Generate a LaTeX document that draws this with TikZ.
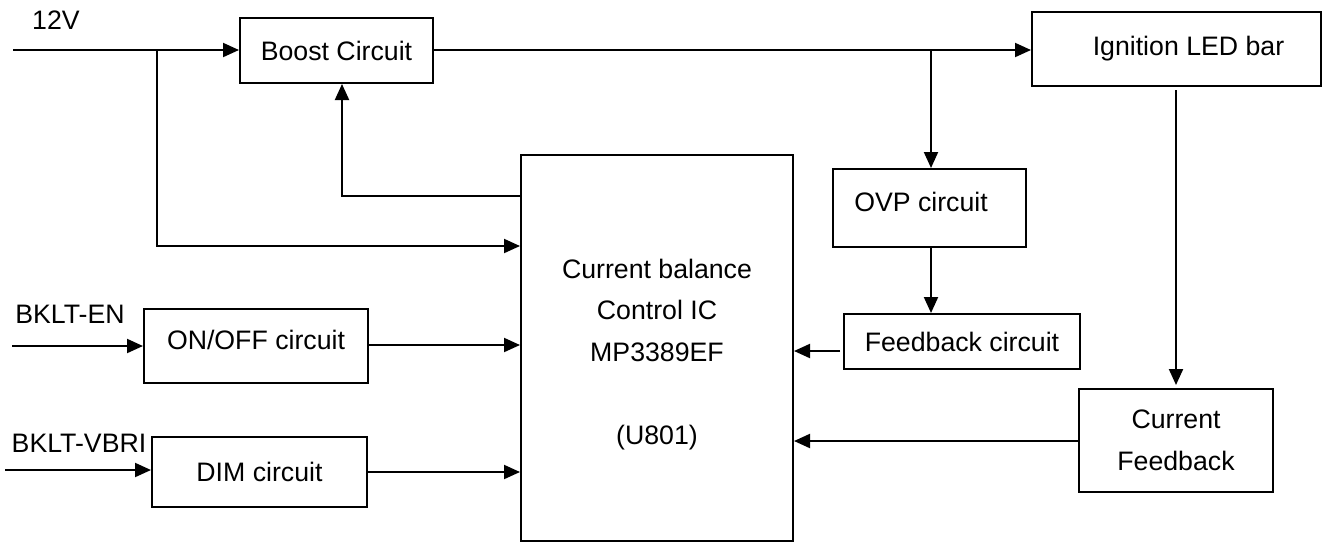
\documentclass[tikz,border=0pt]{standalone}
\usepackage{fontspec}
\setmainfont{Liberation Sans}
\usetikzlibrary{arrows.meta}
\begin{document}
\begin{tikzpicture}[x=1pt,y=-1pt,
  line width=2pt,
  font=\fontsize{26.7}{41.7}\selectfont,
  blk/.style={draw, line width=2pt, inner sep=0pt, align=center},
  lbl/.style={inner sep=0pt, anchor=center, align=center},
  sig/.style={-{Triangle[length=16pt,width=14pt]}}]
\useasboundingbox (0,0) rectangle (1324,542);

% blocks
\node[blk, minimum width=193pt, minimum height=65pt] (boost) at (336.5,50.5) {Boost Circuit};
\node[blk, minimum width=289pt, minimum height=74pt] (ign) at (1176.5,49) {\hspace*{24pt}Ignition LED bar};
\node[blk, minimum width=272pt, minimum height=386pt] (ic) at (657,348) {};
\node[lbl] (ictxt) at (657,354.5) {Current balance\\Control IC\\MP3389EF\\ \\(U801)};
\node[blk, minimum width=193pt, minimum height=78pt] (ovp) at (929.5,208)
  {\raisebox{-3.7pt}[0pt][0pt]{OVP circuit}\hspace*{17pt}};
\node[blk, minimum width=236pt, minimum height=55pt] (fb) at (962,341.5) {Feedback circuit};
\node[blk, minimum width=194pt, minimum height=103pt] (cf) at (1176,440.5) {Current\\Feedback};
\node[blk, minimum width=224pt, minimum height=74pt] (onoff) at (256,346)
  {\raisebox{-3.7pt}[0pt][0pt]{ON/OFF circuit}};
\node[blk, minimum width=215pt, minimum height=70pt] (dim) at (259.5,472) {DIM circuit};

% input labels
\node[lbl] (l12) at (56,20) {12V};
\node[lbl] (len) at (70,314) {BKLT-EN};
\node[lbl] (lvb) at (79,443) {BKLT-VBRI};

% free ends and junctions
\coordinate (in12) at (13,50);
\coordinate (inen) at (12,346);
\coordinate (invb) at (5,470);
\coordinate (j1) at (157,50);
\coordinate (j2) at (931,50);
\coordinate (fbk) at (342,196);

% supply path
\draw[sig] (in12) -- (in12 -| boost.west);
\draw[sig] (boost.east |- in12) -- (in12 -| ign.west);
\draw[sig] (j2) -- (j2 |- ovp.north);
\draw[sig] (j1) -- (157,246) -- (157,246 -| ic.west);
\draw[sig] (fbk -| ic.west) -- (fbk) -- (fbk |- boost.south);

% control inputs
\draw[sig] (inen) -- (inen -| onoff.west);
\draw[sig] (onoff.east |- 0,345) -- (ic.west |- 0,345);
\draw[sig] (invb) -- (invb -| dim.west);
\draw[sig] (dim.east |- 0,472) -- (ic.west |- 0,472);

% feedback paths
\draw[sig] (ovp.south -| j2) -- (fb.north -| j2);
\draw[sig, shorten <=3pt] (fb.west |- 0,351) -- (ic.east |- 0,351);
\draw[sig, shorten <=3pt, shorten >=3pt] (ign.south -| cf.north) -- (cf.north);
\draw[sig] (cf.west |- 0,441) -- (ic.east |- 0,441);
\end{tikzpicture}
\end{document}
